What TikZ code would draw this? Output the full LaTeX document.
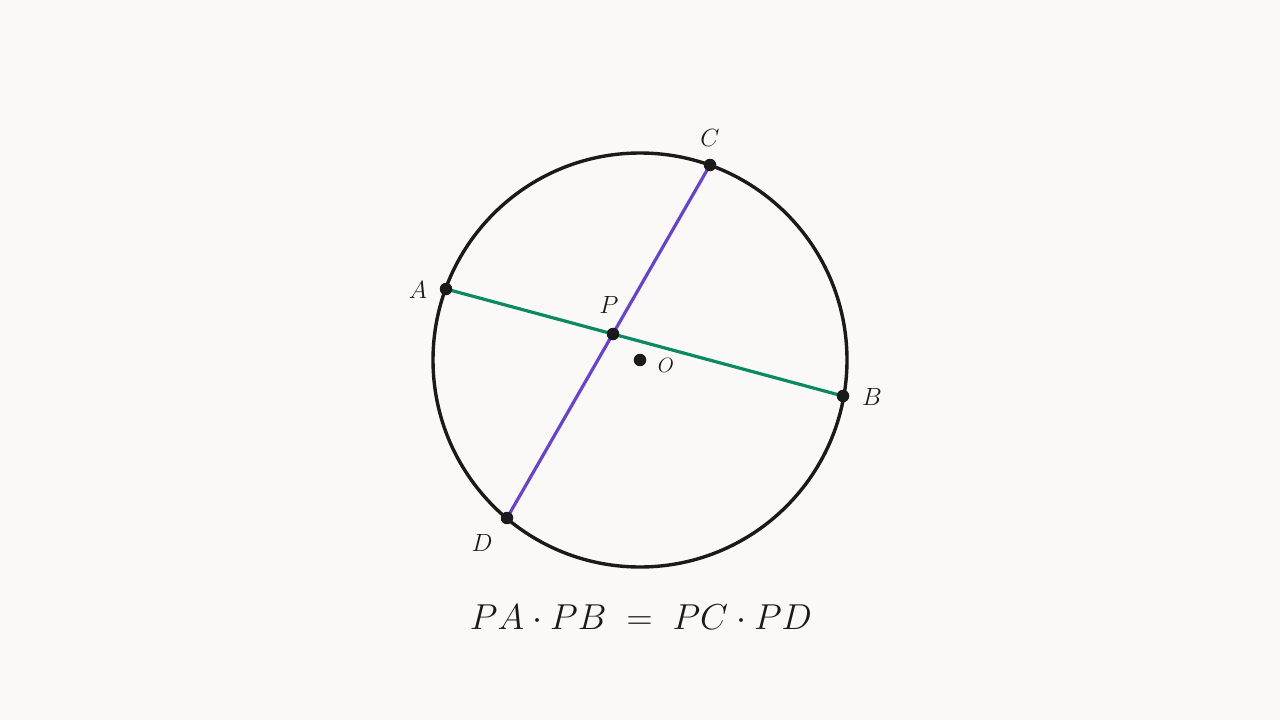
\documentclass[tikz,border=0pt]{standalone}
\usepackage{amsmath}
\definecolor{bg}{HTML}{FAF9F7}
\definecolor{ink}{HTML}{1A1A1A}
\definecolor{chordg}{HTML}{0A8A62}
\definecolor{chordp}{HTML}{6844C8}
\tikzset{
  pt/.style={circle,fill=ink,inner sep=0pt,minimum size=12.5pt},
  lab/.style={text=ink,font=\fontsize{24}{28}\selectfont,inner sep=0pt},
  circ/.style={draw=ink,line width=3.4pt},
  chord/.style={line width=3.2pt},
}
\begin{document}
\begin{tikzpicture}[x=1pt,y=-1pt]
\fill[bg] (0,0) rectangle (1280,720);
\useasboundingbox (0,0) rectangle (1280,720);
\coordinate (Oc) at (640,360);
\draw[circ] (Oc) circle[radius=207];
\coordinate (A) at (446,289);
\coordinate (B) at (843,396);
\coordinate (C) at (710,165);
\coordinate (D) at (507,518);
\coordinate (P) at (613,334);
\draw[chord,chordg] (A) -- (B);
\draw[chord,chordp] (C) -- (D);
\node[pt] (nA) at (A) {};
\node[pt] (nB) at (B) {};
\node[pt] (nC) at (C) {};
\node[pt] (nD) at (D) {};
\node[pt] (nP) at (P) {};
\node[pt] (nO) at (Oc) {};
\node[lab] (lA) at (418,290) {$A$};
\node[lab] (lB) at (872,397) {$B$};
\node[lab] (lC) at (710,138) {$C$};
\node[lab] (lD) at (482,543) {$D$};
\node[lab] (lP) at (609,305) {$P$};
\node[lab,font=\fontsize{20}{24}\selectfont] (lO) at (666,365) {$O$};
\node[lab,anchor=base] (eq) at (641,629) {\scalebox{1.45}{$PA\cdot PB \;=\; PC\cdot PD$}};
\end{tikzpicture}
\end{document}
